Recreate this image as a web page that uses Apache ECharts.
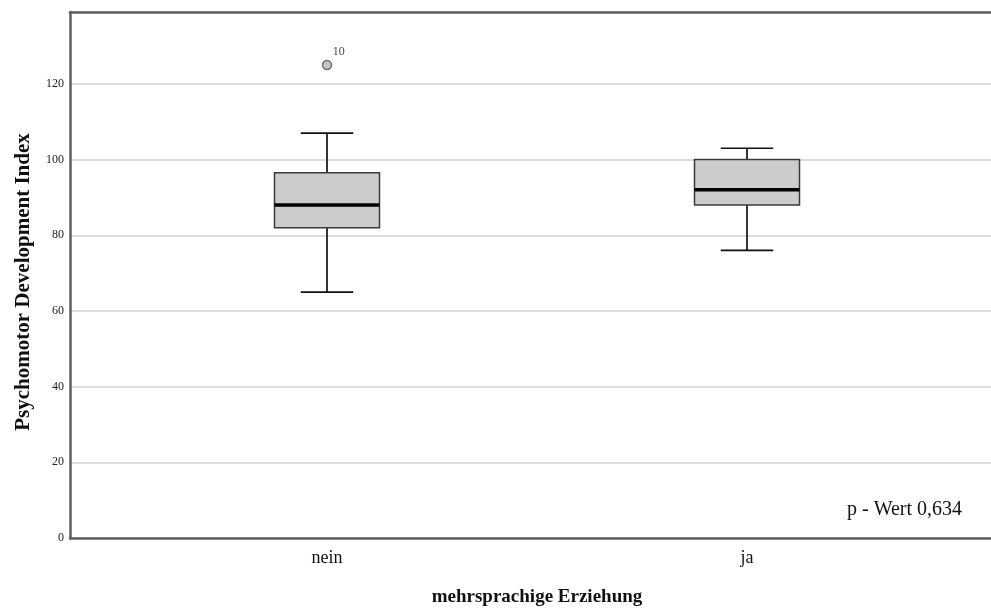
<!DOCTYPE html>
<html>
<head>
<meta charset="utf-8">
<script src="https://cdn.jsdelivr.net/npm/echarts@6/dist/echarts.min.js"></script>
<style>
  html, body { margin: 0; padding: 0; background: #fff; }
  #chart { width: 991px; height: 608px; }
</style>
</head>
<body>
<div id="chart"></div>
<script>
const categories = ['nein', 'ja']
const lowWhisker = [65, 76]
const q1 = [82, 88]
const median = [88, 92]
const q3 = [96.5, 100]
const highWhisker = [107, 103]
const outlierCat = ['nein']
const outlierVal = [125]
const outlierId = ['10']
const pText = 'p - Wert 0,634'

const serif = '"Liberation Serif", "DejaVu Serif", serif'

const boxData = categories.map((c, i) => [i, lowWhisker[i], q1[i], median[i], q3[i], highWhisker[i]])
const outlierData = outlierCat.map((c, i) => [c, outlierVal[i], outlierId[i]])

function renderBox(params, api) {
  const idx = api.value(0)
  const low = api.coord([idx, api.value(1)])
  const lo = api.coord([idx, api.value(2)])
  const med = api.coord([idx, api.value(3)])
  const hi = api.coord([idx, api.value(4)])
  const high = api.coord([idx, api.value(5)])
  const band = api.size([1, 0])[0]
  const cx = low[0]
  const hw = band * 0.125
  const cw = band * 0.0625
  const ln = { stroke: '#111', lineWidth: 1.7 }
  return {
    type: 'group',
    children: [
      { type: 'line', shape: { x1: cx, y1: low[1], x2: cx, y2: lo[1] }, style: ln },
      { type: 'line', shape: { x1: cx, y1: hi[1], x2: cx, y2: high[1] }, style: ln },
      { type: 'line', shape: { x1: cx - cw, y1: low[1], x2: cx + cw, y2: low[1] }, style: ln },
      { type: 'line', shape: { x1: cx - cw, y1: high[1], x2: cx + cw, y2: high[1] }, style: ln },
      { type: 'rect', shape: { x: cx - hw, y: hi[1], width: hw * 2, height: lo[1] - hi[1] },
        style: { fill: '#cccccc', stroke: '#3a3a3a', lineWidth: 1.5 } },
      { type: 'line', shape: { x1: cx - hw, y1: med[1], x2: cx + hw, y2: med[1] },
        style: { stroke: '#000', lineWidth: 3.5 } }
    ]
  }
}

const chart = echarts.init(document.getElementById('chart'))

const frameLine = { show: true, lineStyle: { color: '#5f5f5f', width: 2.5 } }

chart.setOption({
  animation: false,
  backgroundColor: '#fff',
  grid: [
    { left: 70, width: 940, top: 12, bottom: 70, containLabel: false, outerBoundsMode: 'none' },
    { left: 117, width: 840, top: 12, bottom: 70, containLabel: false, outerBoundsMode: 'none' }
  ],
  xAxis: [
    { gridIndex: 0, type: 'value', min: 0, max: 1, axisLine: frameLine,
      axisTick: { show: false }, axisLabel: { show: false }, splitLine: { show: false } },
    { gridIndex: 1, type: 'category', data: categories, axisLine: { show: false },
      axisTick: { show: false },
      axisLabel: { fontFamily: serif, fontSize: 18, color: '#111', margin: 11 },
      name: 'mehrsprachige Erziehung', nameLocation: 'middle', nameGap: 50,
      nameTextStyle: { fontFamily: serif, fontSize: 19, fontWeight: 'bold', color: '#111' } },
    { gridIndex: 0, type: 'value', position: 'top', min: 0, max: 1, axisLine: frameLine,
      axisTick: { show: false }, axisLabel: { show: false }, splitLine: { show: false } }
  ],
  yAxis: [
    { gridIndex: 0, type: 'value', min: 0, max: 139, interval: 20,
      axisLine: frameLine, axisTick: { show: false },
      axisLabel: { fontFamily: serif, fontSize: 12, color: '#222', margin: 6, showMaxLabel: false,
        formatter: v => (v % 20 === 0 ? String(v) : '') },
      splitLine: { lineStyle: { color: '#d2d2d2', width: 1.5 } },
      name: 'Psychomotor Development Index', nameLocation: 'middle', nameGap: 36,
      nameTextStyle: { fontFamily: serif, fontSize: 21, fontWeight: 'bold', color: '#111',
        padding: [0, 14, 0, 0] } },
    { gridIndex: 1, type: 'value', min: 0, max: 139, show: false }
  ],
  graphic: [
    { type: 'text', left: 847, top: 500,
      style: { text: pText, font: '20px ' + serif, fill: '#111' } }
  ],
  series: [
    { type: 'custom', xAxisIndex: 1, yAxisIndex: 1, renderItem: renderBox,
      encode: { x: 0, y: [1, 2, 3, 4, 5] }, data: boxData, z: 5 },
    { type: 'scatter', xAxisIndex: 1, yAxisIndex: 1, data: outlierData,
      symbolSize: 9, z: 6,
      itemStyle: { color: '#b8b8b8', borderColor: '#555', borderWidth: 1.5 },
      label: { show: true, formatter: p => p.data[2], position: [11, -14],
        fontFamily: serif, fontSize: 12, color: '#111' } }
  ]
})
</script>
</body>
</html>
